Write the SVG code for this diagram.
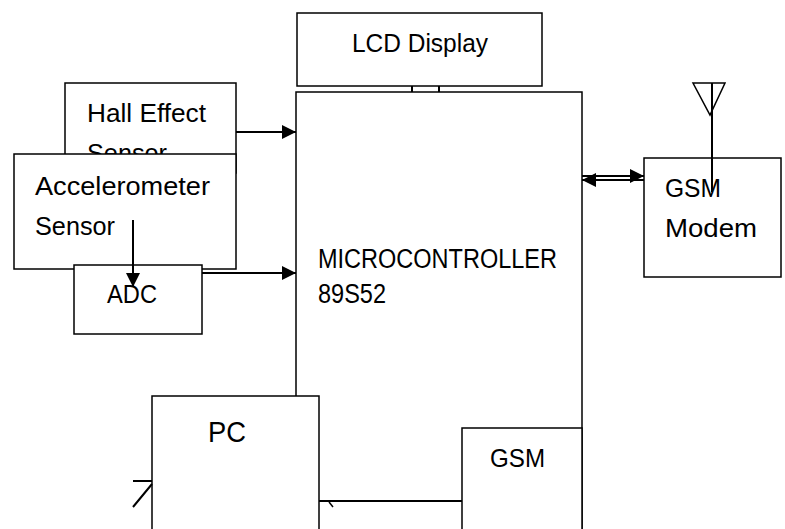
<svg xmlns="http://www.w3.org/2000/svg" width="785" height="529" viewBox="0 0 785 529">
<defs>
<style>
.box{fill:#fff;stroke:#000;stroke-width:1.5}
.ln{fill:none;stroke:#000;stroke-width:2}
.t{font-family:"Liberation Sans",Arial,sans-serif;font-size:26px;fill:#000}
</style>
<marker id="ah" viewBox="0 0 10 10" refX="10" refY="5" markerWidth="15" markerHeight="14" markerUnits="userSpaceOnUse" orient="auto"><path d="M0,0 L10,5 L0,10 z" fill="#000"/></marker>
</defs>
<rect width="785" height="529" fill="#fff"/>
<g id="lcd"><rect class="box" x="297" y="13" width="245" height="73"/><text class="t" x="352" y="52" textLength="136" lengthAdjust="spacingAndGlyphs">LCD Display</text></g>
<g id="micro"><rect class="box" x="296" y="92" width="286" height="450"/><text class="t" x="318" y="268" textLength="239" lengthAdjust="spacingAndGlyphs" style="font-size:27px">MICROCONTROLLER</text><text class="t" x="318" y="303" textLength="68" lengthAdjust="spacingAndGlyphs" style="font-size:27px">89S52</text></g>
<g id="hall"><rect class="box" x="65" y="83" width="171" height="90"/><text class="t" x="87" y="122" textLength="119" lengthAdjust="spacingAndGlyphs">Hall Effect</text><text class="t" x="87" y="162" textLength="80" lengthAdjust="spacingAndGlyphs">Sensor</text></g>
<g id="accel"><rect class="box" x="14" y="154" width="222" height="115"/><text class="t" x="35" y="195" textLength="175" lengthAdjust="spacingAndGlyphs">Accelerometer</text><text class="t" x="35" y="235" textLength="80" lengthAdjust="spacingAndGlyphs">Sensor</text></g>
<g id="adc"><rect class="box" x="74" y="265" width="128" height="69"/><text class="t" x="107" y="303" textLength="50" lengthAdjust="spacingAndGlyphs">ADC</text></g>
<g id="gsm-modem"><rect class="box" x="644" y="158" width="137" height="119"/><text class="t" x="665" y="197" textLength="56" lengthAdjust="spacingAndGlyphs">GSM</text><text class="t" x="665" y="237" textLength="92" lengthAdjust="spacingAndGlyphs">Modem</text></g>
<g id="antenna"><path d="M693,83 L725,83 L710,115 Z" fill="none" stroke="#000" stroke-width="1.5"/><line class="ln" x1="712" y1="83" x2="712" y2="192"/></g>
<g id="pc"><rect class="box" x="152" y="396" width="167" height="150"/><text class="t" x="208" y="442" textLength="38" lengthAdjust="spacingAndGlyphs" style="font-size:30px">PC</text></g>
<g id="gsm"><rect class="box" x="462" y="428" width="120" height="120"/><text class="t" x="490" y="467" textLength="55" lengthAdjust="spacingAndGlyphs">GSM</text></g>
<g id="connectors">
<path class="ln" d="M412,86 V92 M439,86 V92"/>
<line class="ln" x1="236" y1="132" x2="296" y2="132" marker-end="url(#ah)"/>
<line class="ln" x1="202" y1="273" x2="296" y2="273" marker-end="url(#ah)"/>
<line class="ln" x1="133" y1="220" x2="133" y2="287" marker-end="url(#ah)"/>
<line class="ln" x1="582" y1="176" x2="644" y2="176" marker-end="url(#ah)"/>
<line class="ln" x1="644" y1="180" x2="582" y2="180" marker-end="url(#ah)"/>
<line class="ln" x1="319" y1="501" x2="462" y2="501"/>
<path class="ln" d="M133,481 H152 M133,507 L152,484"/>
<path class="ln" style="stroke-width:1.5" d="M329,502 L333,507"/>
</g>
</svg>
